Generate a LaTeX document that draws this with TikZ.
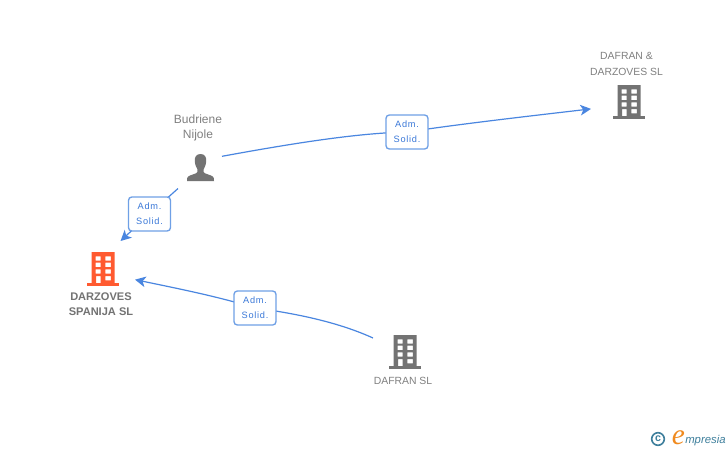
\documentclass[tikz,border=0pt]{standalone}
\usepackage{fontspec}
\setmainfont{Liberation Sans}
\newfontfamily\lblfont[LetterSpace=8]{Liberation Sans}
\newfontfamily\brandfont{Liberation Serif}
\usetikzlibrary{arrows.meta}
\definecolor{linkblue}{HTML}{4A86E0}
\definecolor{lbltxt}{HTML}{3A78D8}
\definecolor{boxblue}{HTML}{6FA0E6}
\definecolor{icongray}{HTML}{737373}
\definecolor{txtgray}{HTML}{808080}
\definecolor{hubred}{HTML}{FF5A30}
\definecolor{brandteal}{HTML}{3E7F9C}
\definecolor{brandorange}{HTML}{F08A1E}
\newcommand{\buildingicon}[3]{% x, top y, colour
  \fill[#3,even odd rule] (#1-11.3,#2) rectangle (#1+11.5,#2+31)
    (#1-7.5,#2+4.3) rectangle (#1-2.3,#2+8.6) (#1+2.4,#2+4.3) rectangle (#1+7.8,#2+8.6)
    (#1-7.5,#2+10.7) rectangle (#1-2.3,#2+15) (#1+2.4,#2+10.7) rectangle (#1+7.8,#2+15)
    (#1-7.5,#2+17.3) rectangle (#1-2.3,#2+21.7) (#1+2.4,#2+17.3) rectangle (#1+7.8,#2+21.7)
    (#1-7,#2+24) rectangle (#1-2.3,#2+31) (#1+2.4,#2+24) rectangle (#1+7.8,#2+28.3);
  \fill[#3] (#1-16,#2+30.6) rectangle (#1+16,#2+33.8);
}
\tikzset{
  x=0.75pt,y=-0.75pt,
  link/.style={draw=linkblue,line width=0.9pt},
  arrowlink/.style={link,-{Stealth[length=8pt,width=8pt,inset=2.2pt]}},
  lblbox/.style={draw=boxblue,line width=1pt,rounded corners=2.5pt,fill=white,minimum width=31.5pt,minimum height=25.5pt,inner sep=0pt,
    align=center,text=lbltxt,font=\lblfont\fontsize{6.9}{11.2}\selectfont},
  hit/.style={rectangle,inner sep=0pt,outer sep=0pt},
  plainname/.style={text=txtgray,align=center,font=\fontsize{7.8}{11.4}\selectfont,inner sep=0pt},
  personname/.style={plainname,font=\fontsize{9}{11.4}\selectfont},
  hubname/.style={text=icongray,align=center,font=\bfseries\fontsize{8.3}{11.4}\selectfont,inner sep=0pt},
}
\begin{document}
\begin{tikzpicture}
\useasboundingbox (0,0) rectangle (728,450);
\fill[white] (0,0) rectangle (728,450);
% icons
\buildingicon{103}{252}{hubred}
\buildingicon{405}{335}{icongray}
\buildingicon{629}{85}{icongray}
\fill[icongray] (200.5,154) .. controls (196,154) and (194.5,157.5) .. (194.8,161)
  .. controls (195,165) and (196.5,168) .. (197.5,169.5) .. controls (197.8,171.5) and (197.5,172.5) .. (196,173.3)
  .. controls (192,175) and (188,175.5) .. (187.2,178) -- (187,181) -- (214,181) -- (213.8,178)
  .. controls (213,175.5) and (209,175) .. (205,173.3) .. controls (203.5,172.5) and (203.2,171.5) .. (203.5,169.5)
  .. controls (204.5,168) and (206,165) .. (206.2,161) .. controls (206.5,157.5) and (205,154) .. (200.5,154) -- cycle;
% invisible anchor nodes around icons
\node[hit,minimum width=33pt,minimum height=31.5pt] (budriene) at (200,168) {};
\node[hit,minimum width=48pt,minimum height=40.5pt] (darzoves) at (103,268) {};
\node[hit,minimum width=48pt,minimum height=20.25pt] (dafransl) at (405,351.5) {};
\node[hit,minimum width=57pt,minimum height=30pt] (dafrandar) at (629,101.5) {};
% connectors
\path (407,132) coordinate (p1) (149.5,214) coordinate (p2) (255,308) coordinate (p3);
\draw[arrowlink] (budriene.28.6) .. controls (300,142) and (360,133) .. (p1) .. controls (460,124) and (530,116) .. (dafrandar.191.2);
\draw[arrowlink] (budriene.223.7) -- (p2) -- (darzoves.57.8);
\draw[arrowlink] (dafransl.north west) .. controls (340,323) and (300,314) .. (p3) .. controls (220,297) and (180,289) .. (darzoves.-20.6);
% labels
\node[lblbox] (l1) at (p1) {Adm.\\Solid.};
\node[lblbox] (l2) at (p2) {Adm.\\Solid.};
\node[lblbox] (l3) at (p3) {Adm.\\Solid.};
% names
\node[personname] (n1) at (198,128) {Budriene\\Nijole};
\node[plainname] (n2) at (626.5,64) {DAFRAN \&\\DARZOVES SL};
\node[plainname] (n3) at (403,381) {DAFRAN SL};
\node[hubname] (n4) at (101,304) {DARZOVES\\SPANIJA SL};
% brand
\draw[brandteal,line width=1.2pt] (658,439) circle (6.3);
\node[text=brandteal,inner sep=0pt,font=\bfseries\fontsize{8}{8}\selectfont] (copy) at (658,438.6) {c};
\node[text=brandorange,inner sep=0pt,anchor=base,font=\brandfont\itshape\fontsize{22}{22}\selectfont] (brande) at (678.5,444) {e};
\node[text=brandteal,inner sep=0pt,anchor=base west,font=\itshape\fontsize{8.5}{9}\selectfont] (brand) at (685,443) {mpresia};
\end{tikzpicture}
\end{document}
